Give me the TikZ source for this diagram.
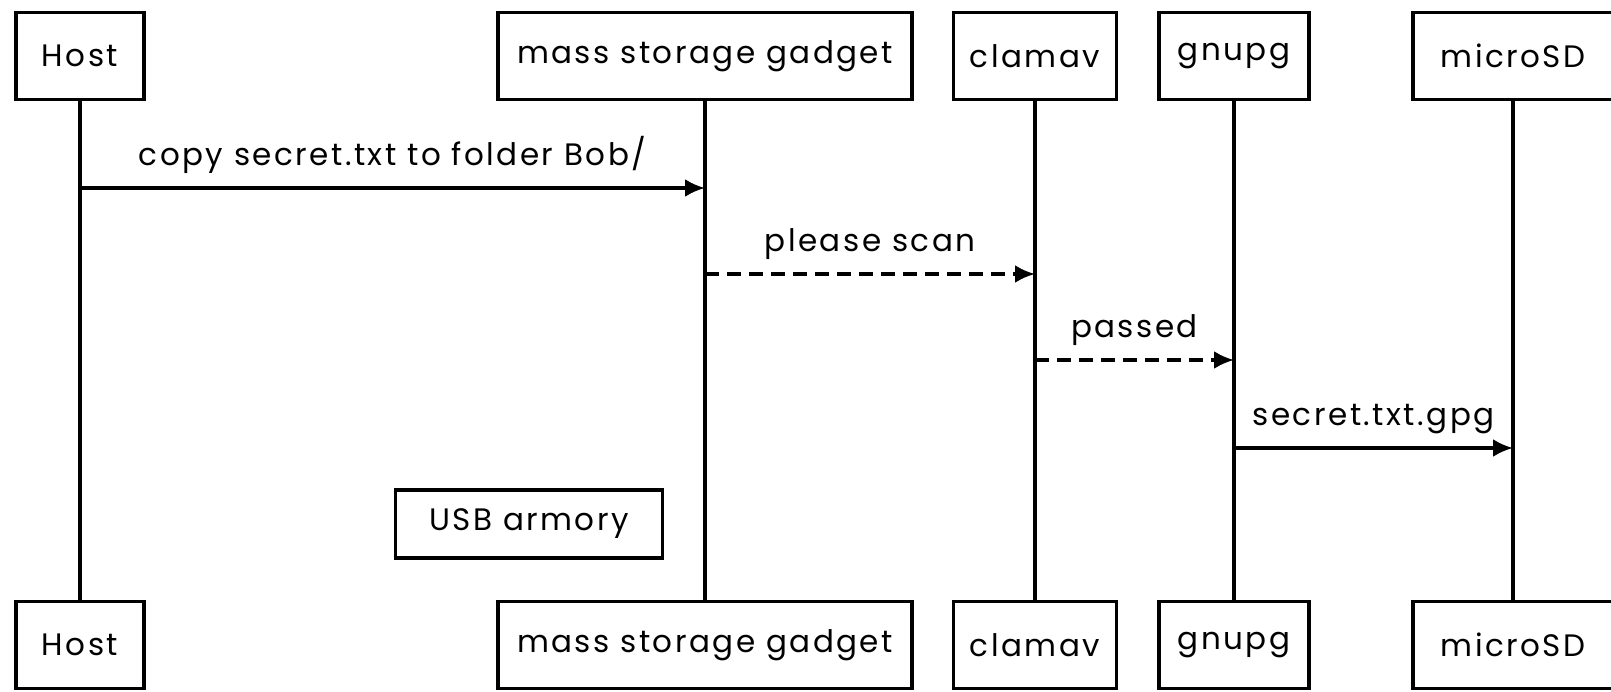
\documentclass[tikz,border=0pt]{standalone}
\usepackage{fontspec}
\setmainfont{Poppins}[LetterSpace=8]
\usetikzlibrary{arrows.meta}

\tikzset{
	actor/.style = {draw, line width = 3.5pt, minimum height = 87pt, inner sep = 0pt,
		font = \fontsize{31}{36}\selectfont},
	lifeline/.style = {line width = 3.5pt},
	msg/.style = {->, line width = 3.5pt},
	reply/.style = {msg, dash pattern = on 14pt off 8pt},
	msglabel/.style = {above = 9pt, font = \fontsize{31}{36}\selectfont}
}

\begin{document}
\begin{tikzpicture}[> = {Latex[length = 20pt, width = 18pt]}, x = 1pt, y = -1pt]

	\useasboundingbox (0, 0) rectangle (1611, 692);

	% Participants, top row

	\node [actor, minimum width = 128pt] (hostTop) at (80, 56) {Host};
	\node [actor, minimum width = 414pt] (gadgetTop) at (705, 56) {mass storage gadget};
	\node [actor, minimum width = 163pt] (clamavTop) at (1035, 56) {clamav};
	\node [actor, minimum width = 150pt] (gnupgTop) at (1234, 56) {gnupg};
	\node [actor, minimum width = 200pt] (sdTop) at (1513, 56) {microSD};

	% Participants, bottom row

	\node [actor, minimum width = 128pt] (hostBot) at (80, 645) {Host};
	\node [actor, minimum width = 414pt] (gadgetBot) at (705, 645) {mass storage gadget};
	\node [actor, minimum width = 163pt] (clamavBot) at (1035, 645) {clamav};
	\node [actor, minimum width = 150pt] (gnupgBot) at (1234, 645) {gnupg};
	\node [actor, minimum width = 200pt] (sdBot) at (1513, 645) {microSD};

	% Lifelines

	\begin{scope}[lifeline]

		\draw (hostTop) -- (hostBot);
		\draw (gadgetTop) -- (gadgetBot);
		\draw (clamavTop) -- (clamavBot);
		\draw (gnupgTop) -- (gnupgBot);
		\draw (sdTop) -- (sdBot);

	\end{scope}

	% Note box

	\node [actor, minimum width = 267pt, minimum height = 68pt] (armory) at (529, 524) {USB armory};

	% Message rows

	\coordinate (copyRow) at (0, 188);
	\coordinate (scanRow) at (0, 274);
	\coordinate (passRow) at (0, 360);
	\coordinate (gpgRow) at (0, 448);

	% Messages

	\draw [msg] (hostTop |- copyRow) -- node [msglabel] {copy secret.txt to folder Bob/} (gadgetTop |- copyRow);
	\draw [reply] (gadgetTop |- scanRow) -- node [msglabel] {please scan} (clamavTop |- scanRow);
	\draw [reply] (clamavTop |- passRow) -- node [msglabel] {passed} (gnupgTop |- passRow);
	\draw [msg] (gnupgTop |- gpgRow) -- node [msglabel] {secret.txt.gpg} (sdTop |- gpgRow);

\end{tikzpicture}
\end{document}
